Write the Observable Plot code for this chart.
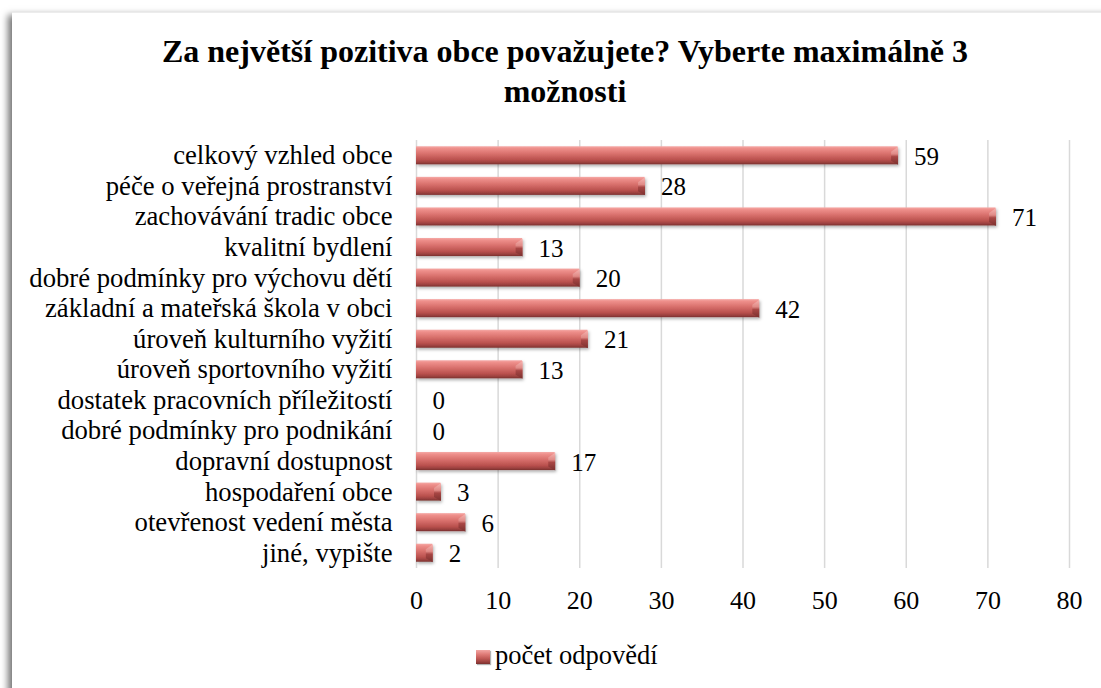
<!DOCTYPE html>
<html>
<head>
<meta charset="utf-8">
<script src="https://cdn.jsdelivr.net/npm/d3@7"></script>
<script src="https://cdn.jsdelivr.net/npm/@observablehq/plot@0.6"></script>
<style>
  html, body { margin: 0; padding: 0; background: #fff; }
  #wrap { position: relative; width: 1101px; height: 688px; overflow: hidden; background: #fff;
          font-family: 'Liberation Serif', 'Times New Roman', serif; }
  #frame { position: absolute; left: 12px; top: 12px; width: 1120px; height: 700px;
           border-top: 1px solid #ececec; box-shadow: -7px 0 7px -3px rgba(0,0,0,0.55); background: #fff; }
  #title { position: absolute; left: 0; width: 1130px; top: 31px; text-align: center;
           font-weight: bold; font-size: 32px; line-height: 40px; color: #000; }
  #chart { position: absolute; left: 0; top: 0; }
  #chart svg, #chart svg text { font-family: 'Liberation Serif', 'Times New Roman', serif !important; }
  #legend { position: absolute; left: 476px; top: 639px; font-size: 26.5px; line-height: 32px; color: #000; display: flex; align-items: center; }
  #legend .sw { width: 14px; height: 14px; margin-right: 5px; margin-top: 3px;
                background: linear-gradient(to bottom, #f3a6a3 0%, #e07c78 30%, #c25a56 60%, #9a403e 85%, #7a302e 100%);
                box-shadow: 1px 1px 1px rgba(0,0,0,0.3); }
</style>
</head>
<body>
<div id="wrap">
  <div id="frame"></div>
  <div id="chart"></div>
  <div id="title">Za největší pozitiva obce považujete? Vyberte maximálně 3<br>možnosti</div>
  <div id="legend"><div class="sw"></div><span>počet odpovědí</span></div>
</div>
<script>
const categories = [
  "celkový vzhled obce",
  "péče o veřejná prostranství",
  "zachovávání tradic obce",
  "kvalitní bydlení",
  "dobré podmínky pro výchovu dětí",
  "základní a mateřská škola v obci",
  "úroveň kulturního vyžití",
  "úroveň sportovního vyžití",
  "dostatek pracovních příležitostí",
  "dobré podmínky pro podnikání",
  "dopravní dostupnost",
  "hospodaření obce",
  "otevřenost vedení města",
  "jiné, vypište"
];
const values = [59, 28, 71, 13, 20, 42, 21, 13, 0, 0, 17, 3, 6, 2];
const xTicks = [0, 10, 20, 30, 40, 50, 60, 70, 80];
const seriesName = "počet odpovědí";

const data = categories.map((c, i) => ({category: c, value: values[i]}));
const serif = "'Liberation Serif', 'Times New Roman', serif";

// bevel facet at the bar's right end
const bevel = {
  draw(ctx, size) {
    const h = 9, w = 7;
    ctx.moveTo(0, -h);
    ctx.lineTo(-w, -h + 5);
    ctx.lineTo(-w, h - 4);
    ctx.lineTo(0, h);
    ctx.closePath();
  }
};

const plot = Plot.plot({
  width: 1101,
  height: 620,
  marginTop: 140,
  marginBottom: 52,
  marginLeft: 416,
  marginRight: 32,
  style: {fontFamily: serif, background: "transparent", color: "#000"},
  x: {domain: [0, 80], ticks: xTicks, label: null},
  y: {domain: categories, label: null, paddingInner: 0.41, paddingOuter: 0.205, round: false},
  marks: [
    Plot.gridX(xTicks, {stroke: "#d9d9d9", strokeOpacity: 1, strokeWidth: 1.5}),
    Plot.barX(data.filter(d => d.value > 0), {x: "value", y: "category", fill: "url(#barGrad)"}),
    Plot.dot(data.filter(d => d.value > 0), {x: "value", y: "category", symbol: bevel, fill: "url(#bevelGrad)", stroke: "none", r: 5}),
    Plot.text(data, {x: "value", y: "category", text: d => String(d.value), textAnchor: "start", dx: 16, dy: 1, fontSize: 25, fill: "#000", fontFamily: serif}),
    Plot.axisX({ticks: xTicks, tickSize: 0, tickPadding: 22, fontSize: 26, anchor: "bottom", tickFormat: d => String(d), fontFamily: serif}),
    Plot.axisY({tickSize: 0, tickPadding: 24, fontSize: 26.7, anchor: "left", fontFamily: serif})
  ]
});

const defs = d3.select(plot).insert("defs", ":first-child");
const g = defs.append("linearGradient").attr("id", "barGrad").attr("x1", 0).attr("y1", 0).attr("x2", 0).attr("y2", 1);
[[0, "#f5aaa7"], [0.12, "#ee8f8b"], [0.4, "#da726e"], [0.75, "#b9504d"], [0.9, "#9a403e"], [1, "#7a302e"]]
  .forEach(([o, c]) => g.append("stop").attr("offset", o).attr("stop-color", c));
const g2 = defs.append("linearGradient").attr("id", "bevelGrad").attr("x1", 0).attr("y1", 0).attr("x2", 0).attr("y2", 1);
[[0, "#f7b5b2"], [0.4, "#e08a86"], [0.55, "#a84644"], [1, "#7a302e"]]
  .forEach(([o, c]) => g2.append("stop").attr("offset", o).attr("stop-color", c));
const f = defs.append("filter").attr("id", "shadow").attr("x", "-10%").attr("y", "-50%").attr("width", "130%").attr("height", "200%");
f.append("feDropShadow").attr("dx", 1.5).attr("dy", 2).attr("stdDeviation", 1.5).attr("flood-color", "#000").attr("flood-opacity", 0.3);
d3.select(plot).selectAll("g[aria-label='bar']").attr("filter", "url(#shadow)");

document.getElementById("chart").appendChild(plot);
</script>
</body>
</html>
